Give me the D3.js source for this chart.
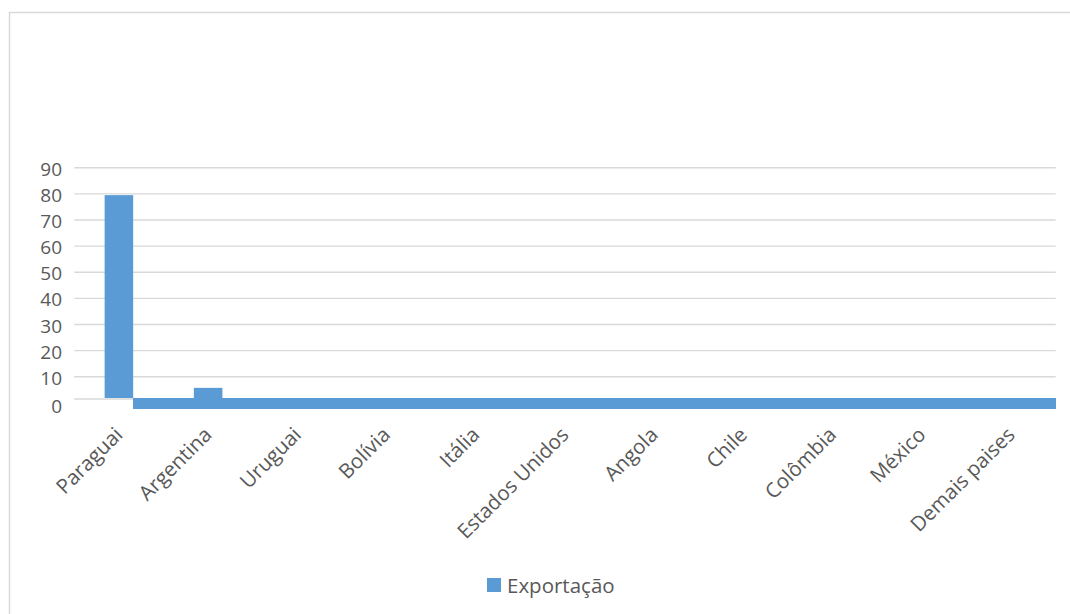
<!DOCTYPE html>
<html>
<head>
<meta charset="utf-8">
<script src="https://cdn.jsdelivr.net/npm/d3@7"></script>
<style>
  html, body { margin: 0; padding: 0; background: #fff; }
  svg { display: block; }
  text { font-family: "Open Sans", "Noto Sans", sans-serif; fill: #595959; }
</style>
</head>
<body>
<script>
// ---- data ----
const categories = ["Paraguai", "Argentina", "Uruguai", "Bolívia", "Itália", "Estados Unidos",
                    "Angola", "Chile", "Colômbia", "México", "Demais paises"];
const exportacao = [79.5, 5, 0, 0, 0, 0, 0, 0, 0, 0, 0];
// strip drawn below the zero line, starting right after the first bar
const faixaInferior = [0, -4.3, -4.3, -4.3, -4.3, -4.3, -4.3, -4.3, -4.3, -4.3, -4.3];
const yTicks = [0, 10, 20, 30, 40, 50, 60, 70, 80, 90];
const seriesName = "Exportação";

// ---- layout ----
const W = 1070, H = 614;
const plot = { left: 74.3, right: 1055.7 };
const color = "#5b9bd5";
const grid = "#d9d9d9";

const svg = d3.select("body").append("svg").attr("width", W).attr("height", H);

// chart frame
svg.append("rect")
  .attr("x", 9.5).attr("y", 12.5)
  .attr("width", W + 20).attr("height", H + 20)
  .attr("fill", "none").attr("stroke", grid).attr("stroke-width", 1.5);

const x = d3.scaleBand().domain(categories)
  .range([plot.left, plot.right])
  .paddingInner(0.68).paddingOuter(0.34);

const y = d3.scaleLinear().domain([0, 10, 90]).range([399, 376.7, 167.7]);

// gridlines
svg.append("g").selectAll("line").data(yTicks).join("line")
  .attr("x1", plot.left).attr("x2", plot.right)
  .attr("y1", d => y(d)).attr("y2", d => y(d))
  .attr("stroke", grid).attr("stroke-width", 1.4);

// y axis labels
const yAxis = d3.axisLeft(y).tickValues(yTicks).tickSize(0).tickPadding(0);
const gy = svg.append("g").attr("transform", "translate(62,0)").call(yAxis);
gy.select(".domain").remove();
gy.selectAll("text")
  .attr("font-size", 19)
  .attr("fill", "#595959")
  .style("font-family", '"Open Sans", sans-serif')
  .attr("dy", (d, i) => d === 0 ? "0.7em" : "0.4em");

// lower strip
const bw = x.bandwidth();
const idx = categories.map((c, i) => i);
const last = categories.length - 1;
svg.append("g").attr("shape-rendering", "crispEdges")
  .selectAll("rect").data(idx.filter(i => faixaInferior[i] < 0)).join("rect")
  .attr("x", i => x(categories[i - 1]) + bw)
  .attr("width", i => (i === last ? plot.right : x(categories[i]) + bw + 1) - (x(categories[i - 1]) + bw))
  .attr("y", y(0) - 1)
  .attr("height", i => y(faixaInferior[i]) - y(0) + 1)
  .attr("fill", color);

// bars
svg.append("g").selectAll("rect").data(idx.filter(i => exportacao[i] > 0)).join("rect")
  .attr("x", i => x(categories[i]))
  .attr("width", bw)
  .attr("y", i => y(exportacao[i]))
  .attr("height", i => y(0) - 1 - y(exportacao[i]))
  .attr("fill", color);

// category labels
const xAxis = d3.axisBottom(x).tickSize(0).tickPadding(0);
const gx = svg.append("g").call(xAxis);
gx.select(".domain").remove();
gx.selectAll(".tick").attr("transform", null);
gx.selectAll(".tick text")
  .attr("font-size", 20.5)
  .attr("fill", "#595959")
  .style("font-family", '"Open Sans", sans-serif')
  .attr("text-anchor", "end")
  .attr("dy", null).attr("y", null)
  .attr("transform", d => `translate(${x(d) + bw / 2 + 5},${436}) rotate(-45)`);

// legend
const lg = svg.append("g");
lg.append("rect").attr("x", 487).attr("y", 578).attr("width", 14).attr("height", 14).attr("fill", color);
lg.append("text").attr("x", 507).attr("y", 593).attr("font-size", 20.5).text(seriesName);
</script>
</body>
</html>
